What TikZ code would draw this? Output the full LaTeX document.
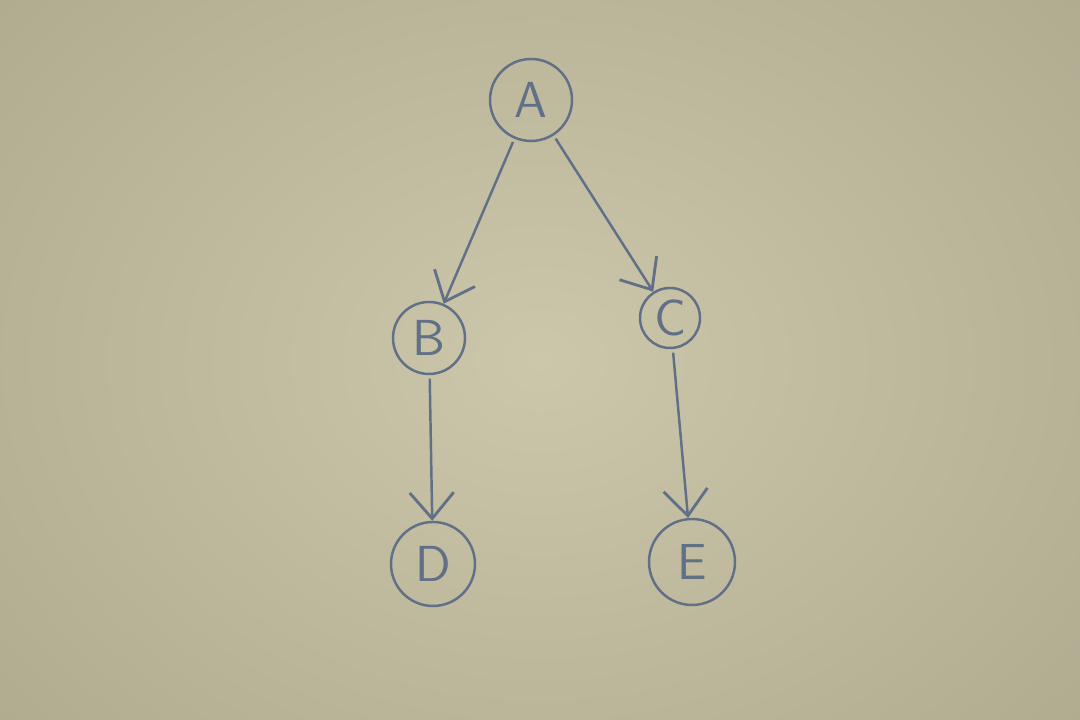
\documentclass[tikz,border=0pt]{standalone}
\usetikzlibrary{arrows.meta}
\begin{document}
\begin{tikzpicture}[
  x=1cm,y=1cm,
  ink/.style={draw=inkcol, line width=0.7pt},
  vertex/.style={ink, circle, inner sep=0pt, text=inkcol, font=\sffamily\Large},
  edge/.style={ink, -{Straight Barb[length=2.6mm,width=4.4mm,line width=0.8pt]}, shorten >=0pt, shorten <=1pt}
]
\definecolor{inkcol}{RGB}{96,112,134}
\definecolor{bgA}{RGB}{172,166,140}
\definecolor{bgB}{RGB}{204,198,170}
\useasboundingbox (0,0) rectangle (10.8,7.2);
\shade[inner color=bgB, outer color=bgA] (-3,-3) rectangle (13.8,10.2);
\node[vertex, minimum size=8.2mm] (A) at (5.31,6.20) {A};
\node[vertex, minimum size=7.2mm] (B) at (4.29,3.82) {B};
\node[vertex, minimum size=6.0mm] (C) at (6.70,4.02) {C};
\node[vertex, minimum size=8.4mm] (D) at (4.33,1.56) {D};
\node[vertex, minimum size=8.6mm] (E) at (6.92,1.58) {E};
\draw[edge] (A) -- (B);
\draw[edge] (A) -- (C);
\draw[edge] (B) -- (D);
\draw[edge] (C) -- (E);
\end{tikzpicture}
\end{document}
